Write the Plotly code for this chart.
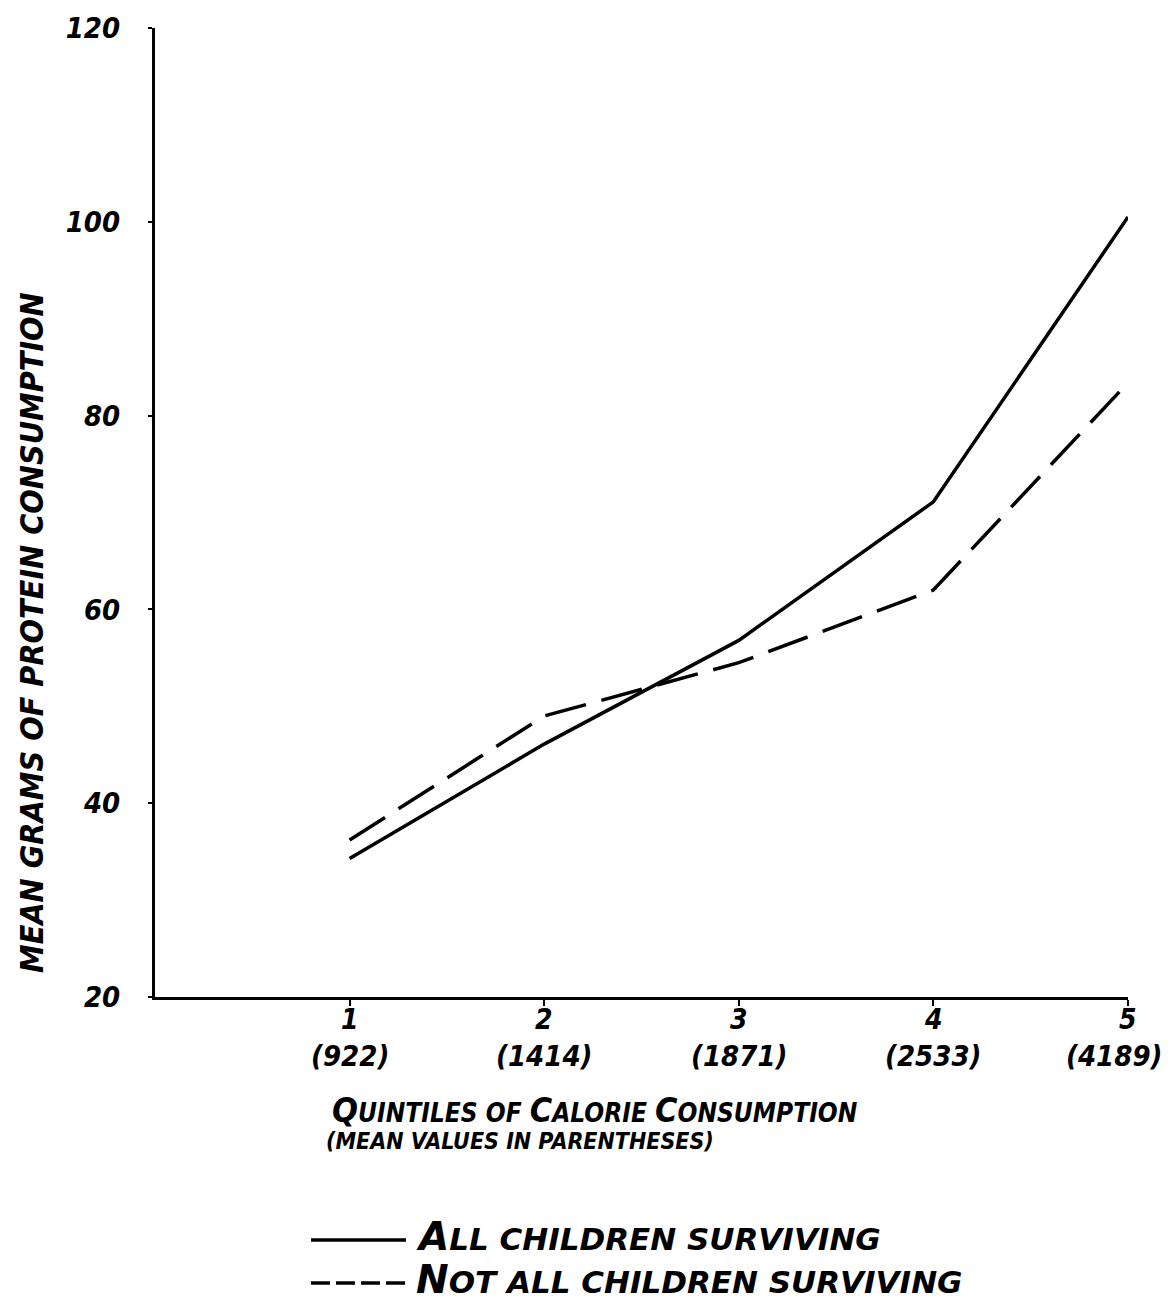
import plotly.graph_objects as go

quintiles = [1, 2, 3, 4, 5]
mean_calories = ["922", "1414", "1871", "2533", "4189"]
all_surviving = [34.3, 46.1, 56.8, 71.1, 100.5]
not_all_surviving = [36.2, 49.0, 54.5, 62.0, 83.4]
y_ticks = [20, 40, 60, 80, 100, 120]

FONT = "DejaVu Sans Condensed"
FONT_WIDE = "DejaVu Sans"

fig = go.Figure()
fig.add_trace(go.Scatter(x=quintiles, y=all_surviving, mode="lines",
                         name="ALL CHILDREN SURVIVING",
                         line=dict(color="black", width=3.5)))
fig.add_trace(go.Scatter(x=quintiles, y=not_all_surviving, mode="lines",
                         name="NOT ALL CHILDREN SURVIVING",
                         line=dict(color="black", width=3.5, dash="42px,16px")))

OFF = 8  # page body offset
W, H = 1171 - OFF, 1303 - OFF
L, T = 155 - OFF, 28 - OFF
R = W - (1128 - OFF)
B = H - (997 - OFF)
pw, ph = W - L - R, H - T - B


def px(x):
    return (x - OFF - L) / pw


def py(y):
    return (H - B - (y - OFF)) / ph


fig.update_layout(
    width=W, height=H,
    margin=dict(l=L, r=R, t=T, b=B, autoexpand=False),
    paper_bgcolor="white", plot_bgcolor="white",
    showlegend=False,
    font=dict(family=FONT, color="black"),
    xaxis=dict(range=[0, 5], tickvals=quintiles, showticklabels=False,
               showgrid=False, zeroline=False, showline=True, automargin=False,
               linecolor="black", linewidth=3, ticks="outside",
               ticklen=6, tickwidth=2, tickcolor="black"),
    yaxis=dict(range=[20, 120], tickvals=y_ticks,
               showgrid=False, zeroline=False, showline=True, automargin=False,
               linecolor="black", linewidth=3, ticks="outside",
               ticklen=4, tickwidth=2, tickcolor="black",
               ticklabelstandoff=22, ticklabeloverflow="allow",
               tickfont=dict(family=FONT, size=29, style="italic", weight="bold")),
)

ann_font = dict(family=FONT, color="black", style="italic", weight="bold")

# Quintile labels with mean calorie values beneath
n = len(quintiles)
for i, (q, c) in enumerate(zip(quintiles, mean_calories)):
    fig.add_annotation(xref="x", yref="paper", x=q, y=py(1020),
                       text=str(q), showarrow=False,
                       font=dict(ann_font, size=28),
                       xanchor="center", yanchor="middle")
    last = i == n - 1
    fig.add_annotation(xref="x", yref="paper", x=q, y=py(1056),
                       text=f"({c})", showarrow=False,
                       font=dict(ann_font, size=29),
                       xanchor="right" if last else "center",
                       xshift=36 if last else 0,
                       yanchor="middle")

# Y-axis title
fig.add_annotation(xref="paper", yref="paper", x=px(32), y=py(633),
                   text="MEAN GRAMS OF PROTEIN CONSUMPTION", textangle=-90,
                   showarrow=False, font=dict(ann_font, size=32),
                   xanchor="center", yanchor="middle")
# X-axis title
fig.add_annotation(xref="paper", yref="paper", x=px(330), y=py(1110),
                   text="<span style='font-size:34px'>Q</span>UINTILES OF <span style='font-size:34px'>C</span>ALORIE <span style='font-size:34px'>C</span>ONSUMPTION",
                   showarrow=False, font=dict(ann_font, size=26),
                   xanchor="left", yanchor="middle")
fig.add_annotation(xref="paper", yref="paper", x=px(324), y=py(1141),
                   text="(MEAN VALUES IN PARENTHESES)",
                   showarrow=False, font=dict(ann_font, size=23),
                   xanchor="left", yanchor="middle")

# Legend (hand-drawn key)
legend_items = [("ALL CHILDREN SURVIVING", "solid", 1240),
                ("NOT ALL CHILDREN SURVIVING", "dash", 1283)]
for label, dash, yy in legend_items:
    fig.add_shape(type="line", xref="paper", yref="paper",
                  x0=px(311), x1=px(406), y0=py(yy), y1=py(yy),
                  line=dict(color="black", width=3.5,
                            dash="solid" if dash == "solid" else "19px,6px"))
    fig.add_annotation(xref="paper", yref="paper", x=px(414), y=py(yy - 4),
                       text=f"<span style='font-size:39px'>{label[0]}</span>{label[1:]}",
                       showarrow=False,
                       font=dict(ann_font, family=FONT_WIDE, size=31),
                       xanchor="left", yanchor="middle")

fig.write_html("out.html")
